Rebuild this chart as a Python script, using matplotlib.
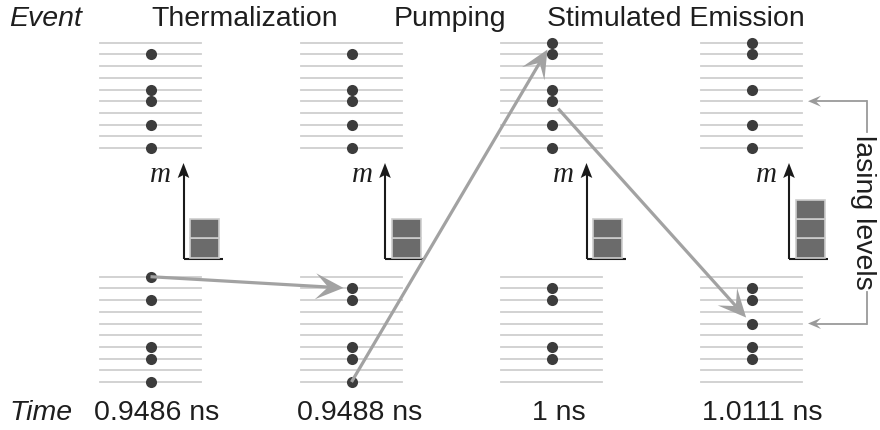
import numpy as np
import matplotlib
matplotlib.use("Agg")
import matplotlib.pyplot as plt
from matplotlib.patches import Polygon, Rectangle

# ---------------- data ----------------
events = ["Thermalization", "Pumping", "Stimulated Emission"]
times = ["0.9486 ns", "0.9488 ns", "1 ns", "1.0111 ns"]
# occupied level indices (0 = top line of each block)
upper_occupied = [[1, 4, 5, 7, 9], [1, 4, 5, 7, 9], [0, 1, 4, 5, 7, 9], [0, 1, 4, 7, 9]]
lower_occupied = [[0, 2, 6, 7, 9], [1, 2, 6, 7, 9], [1, 2, 6, 7], [1, 2, 4, 6, 7]]
m_counts = [2, 2, 2, 3]
# (from panel, block, level) -> (to panel, block, level)
transitions = [(0, "lower", 0, 1, "lower", 1),
               (1, "lower", 9, 2, "upper", 0),
               (2, "upper", 5, 3, "lower", 4)]
lasing_upper = 5
lasing_lower = 4

# ---------------- layout ----------------
N_LEVELS = 10
panel_x = [150.5, 351.5, 551.5, 751.5]
axis_x = [183.5, 385.0, 586.5, 789.0]
event_x = [244.5, 450.0, 676.0]
time_x = [157.0, 360.0, 559.0, 762.0]
block_top = {"upper": 42.7, "lower": 276.7}
GAP = 11.7
HALF_W = 50.5

LINE_C = "#cfcfcf"
DOT_C = "#3c3c3c"
ARROW_C = "#a2a2a2"
TEXT_C = "#1e1e1e"

fig = plt.figure(figsize=(8.8, 4.3), dpi=100)
ax = fig.add_axes([0, 0, 1, 1])
ax.set_xlim(0, 880)
ax.set_ylim(430, 0)
ax.axis("off")


def level_y(block, idx):
    return block_top[block] + idx * GAP


def arrow(x0, y0, x1, y1, color, lw, L, W, notch, shrinkA=0.0, shrinkB=0.0, z=3):
    p0 = np.array([x0, y0], float)
    p1 = np.array([x1, y1], float)
    d = p1 - p0
    u = d / np.hypot(*d)
    n = np.array([-u[1], u[0]])
    start = p0 + shrinkA * u
    tip = p1 - shrinkB * u
    base = tip - L * u
    nt = tip - notch * L * u
    ax.plot([start[0], nt[0]], [start[1], nt[1]], color=color, lw=lw,
            solid_capstyle="butt", zorder=z)
    ax.add_patch(Polygon([tip, base + W * n, nt, base - W * n], closed=True,
                         fc=color, ec="none", zorder=z))


# level lines and electrons
for i, px in enumerate(panel_x):
    for block, occ in (("upper", upper_occupied[i]), ("lower", lower_occupied[i])):
        for k in range(N_LEVELS):
            y = level_y(block, k)
            ax.plot([px - HALF_W, px + HALF_W], [y, y], color=LINE_C, lw=1.3, zorder=1)
        ax.plot([px] * len(occ), [level_y(block, k) for k in occ], "o",
                color=DOT_C, ms=8.0, mec="none", zorder=4)

# m axes with photon boxes
for i, xv in enumerate(axis_x):
    ybase = 258.5
    ax.plot([xv, xv + 39], [ybase, ybase], color="#1a1a1a", lw=1.5, zorder=2,
            solid_capstyle="butt")
    arrow(xv, ybase + 0.7, xv, 163, "#1a1a1a", 1.5, 15, 5.8, 0.8)
    for k in range(m_counts[i]):
        ax.add_patch(Rectangle((xv + 6.5, ybase - 1 - (k + 1) * 19.2), 29, 19.2,
                               fc="#6b6b6b", ec="#cdcdcd", lw=1.2, zorder=2))
    ax.text(xv - 23, 182, "m", family="Liberation Serif", style="italic",
            fontsize=21, ha="center", va="baseline", color=TEXT_C)

# transitions
shrinkA = [0, 0, 10]
for j, (fp, fb, fi, tp, tb, ti) in enumerate(transitions):
    arrow(panel_x[fp], level_y(fb, fi), panel_x[tp], level_y(tb, ti),
          ARROW_C, 2.3, 28, 13, 0.55, shrinkA=shrinkA[j], shrinkB=8, z=5)

# lasing levels bracket
bx = 866.5
y_up = level_y("upper", lasing_upper)
y_lo = level_y("lower", lasing_lower)
ax.plot([bx, bx], [y_up, 132], color="#9a9a9a", lw=1.3, zorder=2)
ax.plot([bx, bx], [292, y_lo], color="#9a9a9a", lw=1.3, zorder=2)
arrow(bx + 0.6, y_up, 808, y_up, "#9a9a9a", 1.3, 13, 5.5, 0.6)
arrow(bx + 0.6, y_lo, 808, y_lo, "#9a9a9a", 1.3, 13, 5.5, 0.6)
ax.text(bx - 3, 212, "lasing levels", rotation=-90, family="Liberation Sans",
        fontsize=20.5, ha="center", va="center", color=TEXT_C)

# header / footer text
ax.text(9, 26, "Event", family="Liberation Sans", style="italic", fontsize=20.5,
        ha="left", va="baseline", color=TEXT_C)
for ex, ev in zip(event_x, events):
    ax.text(ex, 26, ev, family="Liberation Sans", fontsize=20.5,
            ha="center", va="baseline", color=TEXT_C)
ax.text(9, 420, "Time", family="Liberation Sans", style="italic", fontsize=20.5,
        ha="left", va="baseline", color=TEXT_C)
for tx, t in zip(time_x, times):
    ax.text(tx, 420, t, family="Liberation Sans", fontsize=20.5,
            ha="center", va="baseline", color=TEXT_C)

fig.savefig("out.png", dpi=100)
